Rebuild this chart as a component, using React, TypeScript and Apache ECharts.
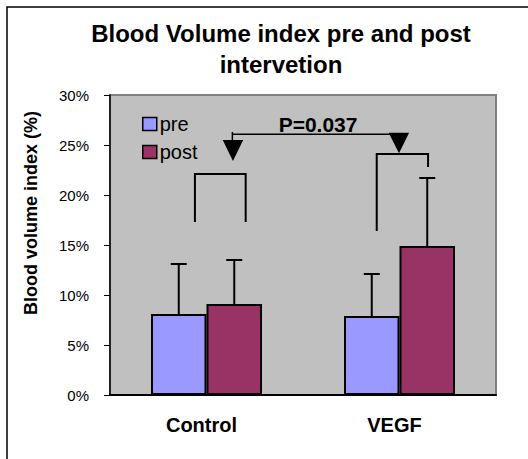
import React, { useEffect, useRef } from "react";
import * as echarts from "echarts";

const categories = ["Control", "VEGF"];
const preValues = [0.081, 0.079];
const preErrors = [0.05, 0.042];
const postValues = [0.091, 0.149];
const postErrors = [0.044, 0.068];
const seriesNames = ["pre", "post"];
const yMin = 0;
const yMax = 0.3;
const yStep = 0.05;
const pLabel = "P=0.037";

const FONT = 'Arial, "Liberation Sans", sans-serif';
const GAP = 0.425;

// annotation geometry in data units (x: 0..2 across categories, y: fraction)
const ctrlBracket = { x1: 0.44, x2: 0.703, top: 0.221, bottom: 0.173 };
const vegfBracket = { x1: 1.382, x2: 1.648, top: 0.241, left: 0.164, right: 0.228 };
const arrowLine = { x1: 0.634, x2: 1.497, y: 0.2607, tickTop: 0.263, tickBottom: 0.255 };
const ctrlTri = { x: 0.637, top: 0.255, tip: 0.234, hw: 0.053 };
const vegfTri = { x: 1.497, top: 0.2623, tip: 0.2417, hw: 0.053 };
const pText = { x: 1.078, y: 0.2705 };

function errorSeries(name: string, values: number[], errors: number[], side: number) {
  return {
    type: "custom",
    name: name + " error",
    xAxisIndex: 0,
    yAxisIndex: 0,
    z: 5,
    data: values.map((v, i) => [i, v, errors[i]]),
    renderItem: (params: any, api: any) => {
      const idx = api.value(0);
      const v = api.value(1);
      const e = api.value(2);
      const band = api.size([1, 0])[0];
      const barW = (band * (1 - GAP)) / 2;
      const base = api.coord([idx, v]);
      const top = api.coord([idx, v + e]);
      const x = base[0] + (side * barW) / 2;
      const style = { stroke: "#000", lineWidth: 2 };
      return {
        type: "group",
        children: [
          { type: "line", shape: { x1: x, y1: base[1], x2: x, y2: top[1] }, style },
          { type: "line", shape: { x1: x - 8, y1: top[1], x2: x + 8, y2: top[1] }, style },
        ],
      };
    },
  };
}

export default function App() {
  const ref = useRef<HTMLDivElement>(null);
  useEffect(() => {
    if (!ref.current) return;
    const chart = echarts.init(ref.current, null, { renderer: "svg" });
    const annotation = {
      type: "custom",
      name: "annotation",
      xAxisIndex: 1,
      yAxisIndex: 0,
      z: 6,
      silent: true,
      data: [[0, 0]],
      renderItem: (params: any, api: any) => {
        const c = (x: number, y: number) => api.coord([x, y]);
        const thick = { stroke: "#000", lineWidth: 2, fill: "none" };
        const thin = { stroke: "#000", lineWidth: 1.5, fill: "none" };
        const tri = (t: any) => ({
          type: "polygon",
          shape: { points: [c(t.x - t.hw, t.top), c(t.x + t.hw, t.top), c(t.x, t.tip)] },
          style: { fill: "#000" },
        });
        return {
          type: "group",
          children: [
            {
              type: "polyline",
              shape: {
                points: [
                  c(ctrlBracket.x1, ctrlBracket.bottom),
                  c(ctrlBracket.x1, ctrlBracket.top),
                  c(ctrlBracket.x2, ctrlBracket.top),
                  c(ctrlBracket.x2, ctrlBracket.bottom),
                ],
              },
              style: thick,
            },
            {
              type: "polyline",
              shape: {
                points: [
                  c(vegfBracket.x1, vegfBracket.left),
                  c(vegfBracket.x1, vegfBracket.top),
                  c(vegfBracket.x2, vegfBracket.top),
                  c(vegfBracket.x2, vegfBracket.right),
                ],
              },
              style: thick,
            },
            {
              type: "line",
              shape: (() => {
                const a = c(arrowLine.x1, arrowLine.y);
                const b = c(arrowLine.x2, arrowLine.y);
                return { x1: a[0], y1: a[1], x2: b[0], y2: b[1] };
              })(),
              style: thin,
            },
            {
              type: "line",
              shape: (() => {
                const a = c(arrowLine.x1, arrowLine.tickTop);
                const b = c(arrowLine.x1, arrowLine.tickBottom);
                return { x1: a[0], y1: a[1], x2: b[0], y2: b[1] };
              })(),
              style: thin,
            },
            tri(ctrlTri),
            tri(vegfTri),
            {
              type: "text",
              style: (() => {
                const p = c(pText.x, pText.y);
                return {
                  text: pLabel,
                  x: p[0],
                  y: p[1],
                  align: "center",
                  verticalAlign: "middle",
                  font: "bold 21px " + FONT,
                  fill: "#000",
                };
              })(),
            },
          ],
        };
      },
    };

    chart.setOption({
      animation: false,
      backgroundColor: "#ffffff",
      grid: {
        left: 110,
        right: 32,
        top: 95,
        bottom: 64,
        show: true,
        backgroundColor: "#c0c0c0",
        borderColor: "#808080",
        borderWidth: 2,
      },
      legend: {
        data: seriesNames,
        orient: "vertical",
        left: 137,
        top: 109,
        itemWidth: 14,
        itemHeight: 13,
        itemGap: 8,
        icon: "rect",
        itemStyle: { borderColor: "#000", borderWidth: 1.5 },
        textStyle: { fontSize: 20, fontFamily: FONT, color: "#000", lineHeight: 20, padding: [0, 0, 0, -2] },
      },
      xAxis: [
        {
          type: "category",
          data: categories,
          axisLine: { lineStyle: { color: "#000", width: 2 } },
          axisTick: { show: false },
          axisLabel: {
            fontSize: 20,
            fontWeight: "bold",
            fontFamily: FONT,
            color: "#000",
            margin: 20,
            padding: [0, 10, 0, 0],
          },
        },
        { type: "value", min: 0, max: 2, show: false },
      ],
      yAxis: {
        type: "value",
        min: yMin,
        max: yMax,
        interval: yStep,
        axisLine: { show: true, lineStyle: { color: "#000", width: 1.5 } },
        axisTick: { show: true, length: 6, lineStyle: { color: "#000" } },
        splitLine: { show: false },
        axisLabel: {
          fontSize: 15,
          fontFamily: FONT,
          color: "#000",
          margin: 21,
          formatter: (v: number) => Math.round(v * 100) + "%",
        },
      },
      graphic: [
        {
          type: "polyline",
          shape: { points: [[7, 459], [7, 7], [528, 7]] },
          style: { stroke: "#000", lineWidth: 1.5, fill: "none" },
        },
        {
          type: "text",
          x: 281,
          y: 49,
          style: {
            text: "Blood Volume index pre and post\nintervetion",
            align: "center",
            verticalAlign: "middle",
            lineHeight: 31,
            font: "bold 24px " + FONT,
            fill: "#000",
          },
        },
        {
          type: "text",
          x: 31,
          y: 213,
          rotation: Math.PI / 2,
          style: {
            text: "Blood volume index (%)",
            align: "center",
            verticalAlign: "middle",
            font: "bold 18px " + FONT,
            fill: "#000",
          },
        },
      ],
      series: [
        {
          type: "bar",
          name: seriesNames[0],
          data: preValues,
          barGap: "0%",
          barCategoryGap: GAP * 100 + "%",
          itemStyle: { color: "#9999ff", borderColor: "#000", borderWidth: 2 },
        },
        {
          type: "bar",
          name: seriesNames[1],
          data: postValues,
          barGap: "0%",
          barCategoryGap: GAP * 100 + "%",
          itemStyle: { color: "#993366", borderColor: "#000", borderWidth: 2 },
        },
        errorSeries(seriesNames[0], preValues, preErrors, -1),
        errorSeries(seriesNames[1], postValues, postErrors, 1),
        annotation,
      ],
    });
    return () => chart.dispose();
  }, []);
  return (
    <div
      ref={ref}
      style={{ position: "fixed", left: 0, top: 0, width: 528, height: 459 }}
    />
  );
}
